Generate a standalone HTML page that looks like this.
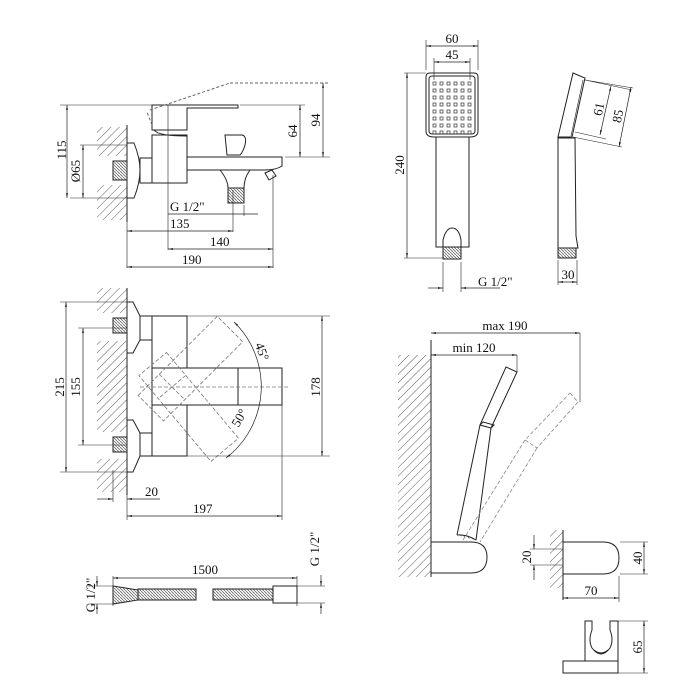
<!DOCTYPE html>
<html><head><meta charset="utf-8"><style>html,body{margin:0;padding:0;background:#fff}svg{display:block}text{font-family:"Liberation Serif",serif;font-size:13px;fill:#111}</style></head><body>
<svg width="700" height="700" viewBox="0 0 700 700" xmlns="http://www.w3.org/2000/svg">
<defs>
<pattern id="h" width="6" height="6" patternUnits="userSpaceOnUse" patternTransform="rotate(45)"><line x1="0" y1="0" x2="0" y2="6" stroke="#333" stroke-width="0.8"/></pattern>
<pattern id="t" width="3" height="3" patternUnits="userSpaceOnUse"><rect width="3" height="3" fill="#fff"/><line x1="0" y1="0" x2="3" y2="3" stroke="#666" stroke-width="0.8"/></pattern>
<marker id="a" viewBox="0 0 10 10" refX="10" refY="5" markerWidth="7" markerHeight="7" orient="auto-start-reverse"><path d="M0,3 L10,5 L0,7z" fill="#222"/></marker>
</defs>
<g fill="none" stroke="#222" stroke-width="1">
<!-- TOP SIDE VIEW -->
<rect x="97" y="127" width="30" height="29" fill="url(#h)" stroke="none"/>
<rect x="97" y="185" width="30" height="35" fill="url(#h)" stroke="none"/>
<line x1="127" y1="125" x2="127" y2="222"/>
<rect x="113" y="161" width="14" height="19" fill="url(#t)"/>
<path d="M127,143 H134 Q140,158 140,170 Q140,183 134,198 H127z" fill="#fff"/>
<rect x="140" y="158" width="12" height="25"/>
<rect x="152" y="135" width="35" height="48"/>
<path d="M187,157 H282 V166 Q276,170 265,170 H187"/>
<path d="M152,105 H238 V108 H187 V130 H152z"/>
<path d="M154,130 Q158,136 187,136" />
<path d="M150,110 L230,83 M152,125 L147,112 M230,83 H330" stroke-dasharray="3,2" stroke="#666"/>
<path d="M225,135 H242 Q247,136 245,145 Q243,152 240,155 H227z"/>
<path d="M220,170 Q228,180 228,188 V203 H244 V188 Q244,178 250,170"/>
<rect x="228" y="188" width="16" height="15" fill="url(#t)"/>
<path d="M265,173 L272,170 L276,176 L269,180z"/>
<!-- top dims -->
<path d="M60,105 H152 M70,198 H127 M80,145 H127 M240,105 H305 M285,157 H330 M168,105 V250 M233,190 V232 M244,205 V216 M273,175 V268 M127,222 V268" stroke-width="0.6"/>
<line x1="67" y1="105" x2="67" y2="198" marker-start="url(#a)" marker-end="url(#a)" stroke-width="0.7"/>
<line x1="83" y1="145" x2="83" y2="198" marker-start="url(#a)" marker-end="url(#a)" stroke-width="0.7"/>
<line x1="300" y1="105" x2="300" y2="157" marker-start="url(#a)" marker-end="url(#a)" stroke-width="0.7"/>
<line x1="323" y1="83" x2="323" y2="157" marker-start="url(#a)" marker-end="url(#a)" stroke-width="0.7"/>
<line x1="168" y1="214" x2="258" y2="214" stroke-width="0.7"/>
<line x1="127" y1="231" x2="233" y2="231" marker-start="url(#a)" marker-end="url(#a)" stroke-width="0.7"/>
<line x1="168" y1="249" x2="273" y2="249" marker-start="url(#a)" marker-end="url(#a)" stroke-width="0.7"/>
<line x1="127" y1="267" x2="273" y2="267" marker-start="url(#a)" marker-end="url(#a)" stroke-width="0.7"/>

<!-- FRONT VIEW -->
<rect x="97" y="288" width="30" height="25" fill="url(#h)" stroke="none"/>
<rect x="97" y="341" width="30" height="91" fill="url(#h)" stroke="none"/>
<rect x="97" y="459" width="30" height="33" fill="url(#h)" stroke="none"/>
<line x1="127" y1="288" x2="127" y2="495"/>
<rect x="113" y="318" width="14" height="15" fill="url(#t)"/>
<rect x="113" y="437" width="14" height="15" fill="url(#t)"/>
<path d="M127,302 H133 L140,316 V340 L133,353 H127z" fill="#fff"/>
<path d="M127,420 H133 L140,433 V456 L133,472 H127z" fill="#fff"/>
<rect x="140" y="316" width="12" height="24"/><rect x="140" y="433" width="12" height="23"/>
<rect x="152" y="316" width="35" height="140"/>
<rect x="152" y="368" width="130" height="37" fill="#fff"/>
<line x1="238" y1="368" x2="238" y2="405"/>
<g stroke="#777" stroke-dasharray="4,2" stroke-width="0.8">
<g transform="translate(172,387) rotate(-45)"><rect x="-30" y="-18" width="112" height="36"/><line x1="0" y1="-18" x2="0" y2="18"/></g>
<g transform="translate(172,387) rotate(50)"><rect x="-30" y="-18" width="112" height="36"/><line x1="0" y1="-18" x2="0" y2="18"/></g>
<line x1="140" y1="387" x2="290" y2="387"/>
</g>
<path d="M234,322 A90,90 0 0 1 226,458" marker-start="url(#a)" marker-end="url(#a)" stroke-width="0.7"/>
<path d="M187,316 H330 M187,456 H330 M60,302 H127 M78,328 H127 M78,445 H127 M60,472 H127 M282,405 V520 M113,470 V502 M127,495 V520" stroke-width="0.6"/>
<line x1="66" y1="302" x2="66" y2="472" marker-start="url(#a)" marker-end="url(#a)" stroke-width="0.7"/>
<line x1="83" y1="328" x2="83" y2="445" marker-start="url(#a)" marker-end="url(#a)" stroke-width="0.7"/>
<line x1="322" y1="316" x2="322" y2="456" marker-start="url(#a)" marker-end="url(#a)" stroke-width="0.7"/>
<line x1="97" y1="499" x2="113" y2="499" marker-end="url(#a)" stroke-width="0.7"/>
<line x1="127" y1="499" x2="160" y2="499" marker-start="url(#a)" stroke-width="0.7"/>
<line x1="127" y1="516" x2="282" y2="516" marker-start="url(#a)" marker-end="url(#a)" stroke-width="0.7"/>

<!-- HOSE -->
<path d="M113,586 L138,590 V600 L113,604z" fill="url(#t)"/>
<rect x="138" y="589" width="58" height="11" fill="url(#t)"/>
<rect x="213" y="589" width="60" height="11" fill="url(#t)"/>
<rect x="273" y="586" width="24" height="17"/>
<path d="M113,576 V606 M297,576 V606 M88,586 H113 M88,604 H113 M297,586 H325 M297,603 H325" stroke-width="0.6"/>
<line x1="113" y1="578" x2="297" y2="578" marker-start="url(#a)" marker-end="url(#a)" stroke-width="0.7"/>
<line x1="97" y1="576" x2="97" y2="586" marker-end="url(#a)" stroke-width="0.7"/>
<line x1="97" y1="614" x2="97" y2="604" marker-end="url(#a)" stroke-width="0.7"/>
<line x1="321" y1="575" x2="321" y2="586" marker-end="url(#a)" stroke-width="0.7"/>
<line x1="321" y1="614" x2="321" y2="603" marker-end="url(#a)" stroke-width="0.7"/>

<!-- HAND SHOWER FRONT -->
<path d="M430,73 H474 Q478,73 478,77 V131 Q478,137 470,137 H434 Q426,137 426,131 V77 Q426,73 430,73z"/>
<rect x="429" y="76" width="46" height="58" rx="3"/>
<path d="M436,137 V247 H469 V137"/>
<path d="M443,247 V240 Q446,228 452,228 Q459,228 461,240 V247"/>
<rect x="443" y="247" width="18" height="12" fill="url(#t)"/>
</g>
<g fill="none" stroke="#333" stroke-width="0.7">
<g id="r"><rect x="433" y="82" width="3" height="3"/><rect x="440" y="82" width="3" height="3"/><rect x="447" y="82" width="3" height="3"/><rect x="454" y="82" width="3" height="3"/><rect x="461" y="82" width="3" height="3"/><rect x="468" y="82" width="3" height="3"/></g>
<use href="#r" y="7"/><use href="#r" y="14"/><use href="#r" y="21"/><use href="#r" y="28"/><use href="#r" y="35"/><use href="#r" y="42"/><use href="#r" y="49"/>
</g>
<g fill="none" stroke="#222" stroke-width="1">
<path d="M426,70 V40 M478,70 V40 M434,80 V58 M470,80 V58 M404,73 H426 M404,258 H443 M443,262 V292 M461,262 V292" stroke-width="0.6"/>
<line x1="426" y1="46" x2="478" y2="46" marker-start="url(#a)" marker-end="url(#a)" stroke-width="0.7"/>
<line x1="434" y1="62" x2="470" y2="62" marker-start="url(#a)" marker-end="url(#a)" stroke-width="0.7"/>
<line x1="407" y1="73" x2="407" y2="258" marker-start="url(#a)" marker-end="url(#a)" stroke-width="0.7"/>
<line x1="428" y1="288" x2="443" y2="288" marker-end="url(#a)" stroke-width="0.7"/>
<line x1="500" y1="288" x2="461" y2="288" marker-end="url(#a)" stroke-width="0.7"/>
<!-- side -->
<path d="M573,73 L585,78 L572,137 L558,137z"/>
<path d="M583,80 L571,136" stroke-width="0.6"/>
<path d="M558,138 H575 L576,236 L578,248 H558z"/>
<rect x="558" y="248" width="18" height="10" fill="url(#t)"/>
<path d="M558,260 V285 M577,260 V285 M585,80 L632,90 M585,80 L633,88 M573,137 L622,147 M575,132 L606,139" stroke-width="0.6"/>
<line x1="558" y1="282" x2="577" y2="282" marker-start="url(#a)" marker-end="url(#a)" stroke-width="0.7"/>
<line x1="611" y1="86" x2="600" y2="135" marker-start="url(#a)" marker-end="url(#a)" stroke-width="0.7"/>
<line x1="631" y1="87" x2="619" y2="147" marker-start="url(#a)" marker-end="url(#a)" stroke-width="0.7"/>

<!-- MOUNTED VIEW -->
<rect x="398" y="355" width="33" height="222" fill="url(#h)" stroke="none"/>
<line x1="431" y1="340" x2="431" y2="577"/>
<path d="M431,542 H471 Q487,542 487,557 Q487,573 471,573 H431"/>
<path d="M506,367 L517,372 L491,428 L480,425z"/>
<path d="M480,425 L457,535 M491,428 L476,540 M480,425 L483,422 L494,425 L491,428" />
<path d="M457,535 Q466,534 476,540" fill="url(#t)"/>
<g stroke="#888" stroke-dasharray="4,2" stroke-width="0.8"><path d="M570,393 L578,402 L537,448 L525,440z M525,440 L463,540 M537,448 L480,542"/></g>
<path d="M517,372 V355 M580,333 V402" stroke-width="0.6"/>
<line x1="431" y1="333" x2="580" y2="333" marker-start="url(#a)" marker-end="url(#a)" stroke-width="0.7"/>
<line x1="431" y1="355" x2="517" y2="355" marker-start="url(#a)" marker-end="url(#a)" stroke-width="0.7"/>
<rect x="550" y="530" width="13" height="58" fill="url(#h)" stroke="none"/>
<line x1="563" y1="530" x2="563" y2="600"/>
<path d="M563,542 H603 Q619,542 619,558 Q619,574 603,574 H563"/>
<path d="M540,549 H563 M540,565 H563 M530,549 H540 M530,565 H540 M620,542 H648 M620,574 H648 M619,576 V602" stroke-width="0.6"/>
<line x1="534" y1="535" x2="534" y2="549" marker-end="url(#a)" stroke-width="0.7"/>
<line x1="534" y1="580" x2="534" y2="565" marker-end="url(#a)" stroke-width="0.7"/>
<line x1="644" y1="542" x2="644" y2="574" marker-start="url(#a)" marker-end="url(#a)" stroke-width="0.7"/>
<line x1="563" y1="598" x2="619" y2="598" marker-start="url(#a)" marker-end="url(#a)" stroke-width="0.7"/>
<path d="M585,661 V621 H592 V630 Q588,640 592,648 Q601,660 610,648 Q614,640 610,630 V621 H618 V661"/>
<path d="M594,650 Q601,656 608,650"/>
<rect x="563" y="661" width="55" height="12"/>
<path d="M618,621 H648 M618,673 H648" stroke-width="0.6"/>
<line x1="644" y1="621" x2="644" y2="673" marker-start="url(#a)" marker-end="url(#a)" stroke-width="0.7"/>
</g>
<!-- TEXT -->
<text x="66" y="150" transform="rotate(-90 66 150)" text-anchor="middle">115</text>
<text x="80" y="171" transform="rotate(-90 80 171)" text-anchor="middle">Ø65</text>
<text x="297" y="131" transform="rotate(-90 297 131)" text-anchor="middle">64</text>
<text x="320" y="120" transform="rotate(-90 320 120)" text-anchor="middle">94</text>
<text x="170" y="211">G 1/2"</text>
<text x="170" y="228">135</text>
<text x="210" y="246">140</text>
<text x="182" y="264">190</text>
<text x="64" y="387" transform="rotate(-90 64 387)" text-anchor="middle">215</text>
<text x="80" y="387" transform="rotate(-90 80 387)" text-anchor="middle">155</text>
<text x="320" y="387" transform="rotate(-90 320 387)" text-anchor="middle">178</text>
<text x="258" y="353" transform="rotate(70 258 353)" text-anchor="middle">45°</text>
<text x="243" y="420" transform="rotate(-60 243 420)" text-anchor="middle">50°</text>
<text x="145" y="496">20</text>
<text x="193" y="513">197</text>
<text x="205" y="574" text-anchor="middle">1500</text>
<text x="95" y="595" transform="rotate(-90 95 595)" text-anchor="middle">G 1/2"</text>
<text x="319" y="549" transform="rotate(-90 319 549)" text-anchor="middle">G 1/2"</text>
<text x="452" y="43" text-anchor="middle">60</text>
<text x="452" y="59" text-anchor="middle">45</text>
<text x="404" y="165" transform="rotate(-90 404 165)" text-anchor="middle">240</text>
<text x="478" y="286">G 1/2"</text>
<text x="568" y="279" text-anchor="middle">30</text>
<text x="603" y="110" transform="rotate(-78 603 110)" text-anchor="middle">61</text>
<text x="622" y="117" transform="rotate(-78 622 117)" text-anchor="middle">85</text>
<text x="505" y="330" text-anchor="middle">max 190</text>
<text x="474" y="352" text-anchor="middle">min 120</text>
<text x="531" y="557" transform="rotate(-90 531 557)" text-anchor="middle">20</text>
<text x="642" y="558" transform="rotate(-90 642 558)" text-anchor="middle">40</text>
<text x="591" y="595" text-anchor="middle">70</text>
<text x="642" y="647" transform="rotate(-90 642 647)" text-anchor="middle">65</text>
</svg>
</body></html>
